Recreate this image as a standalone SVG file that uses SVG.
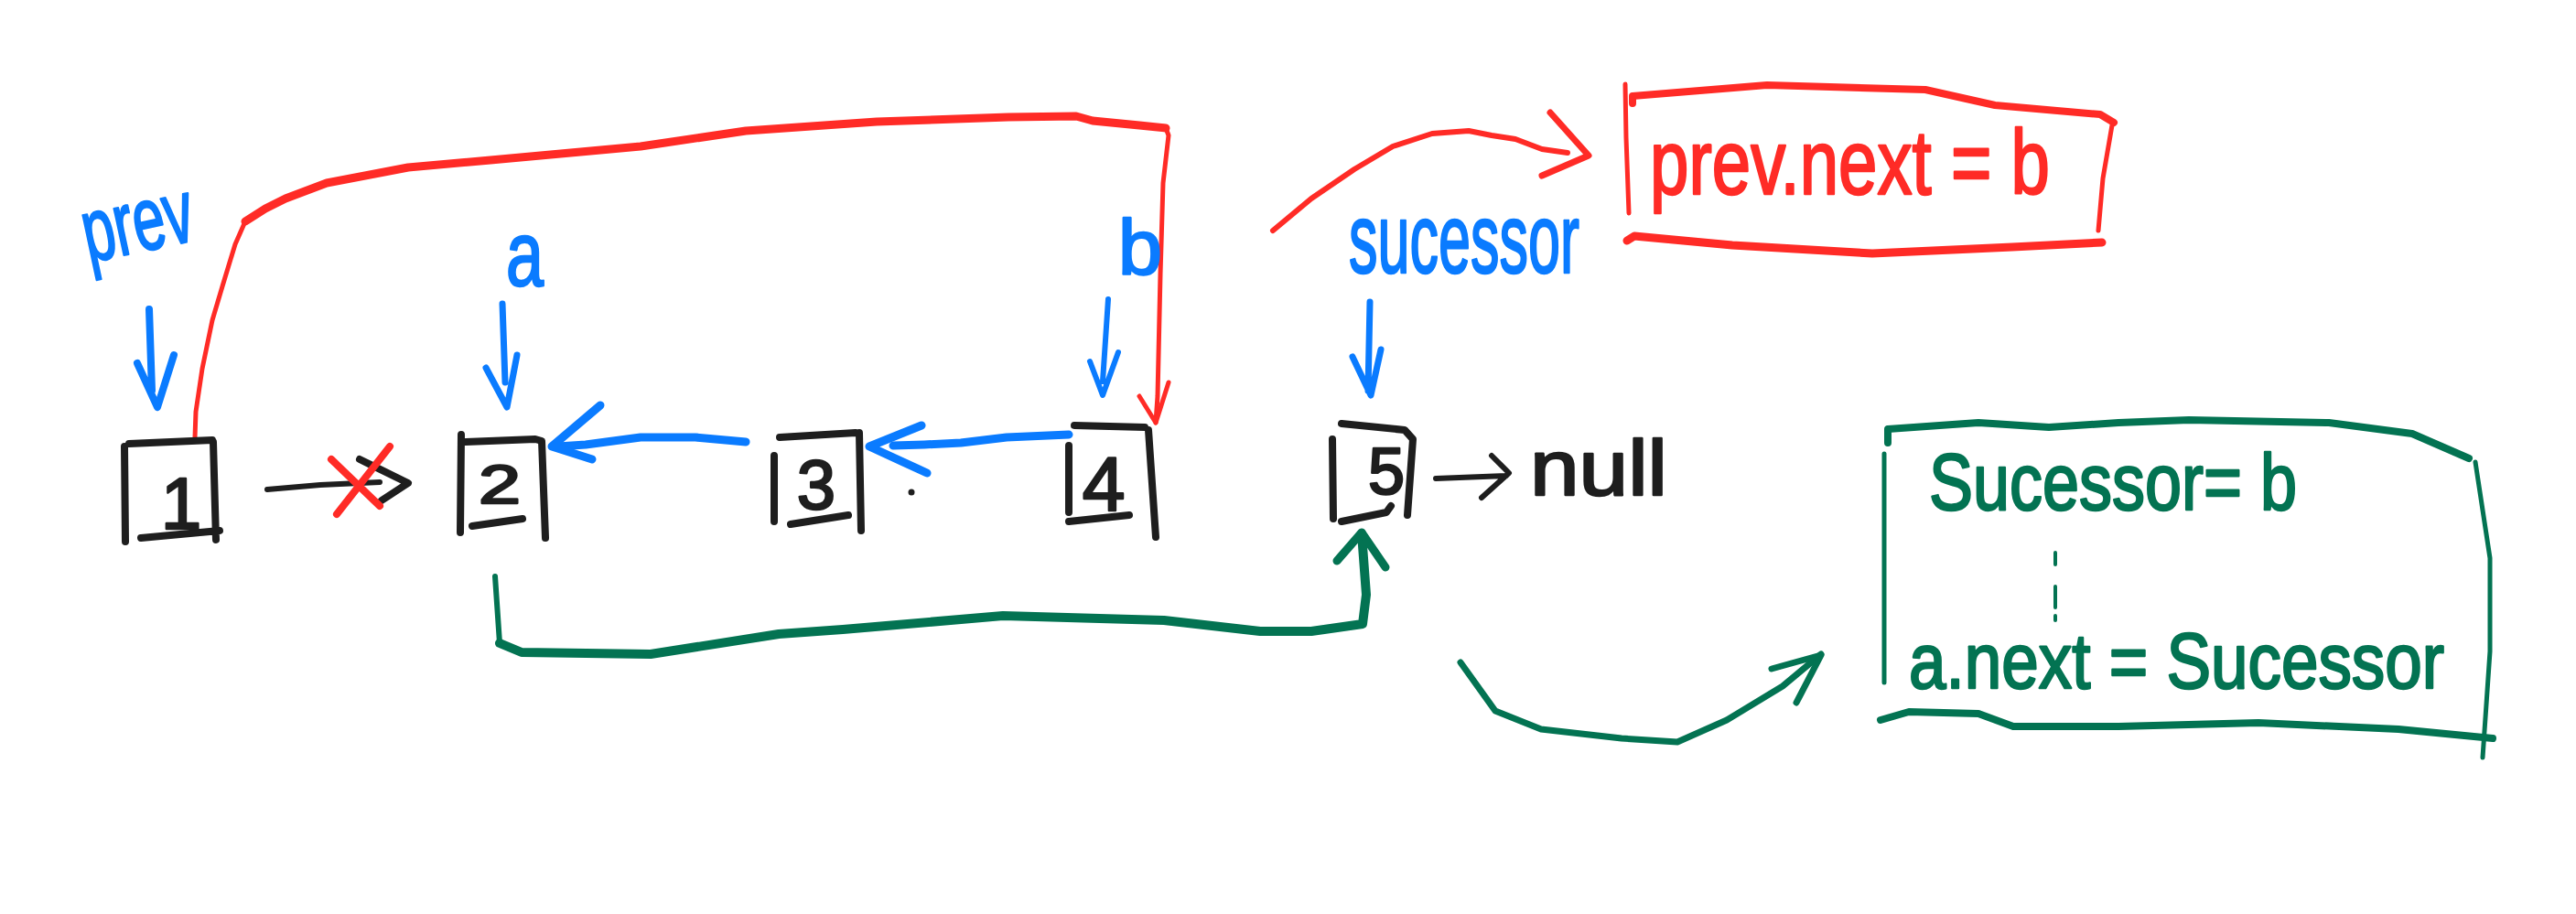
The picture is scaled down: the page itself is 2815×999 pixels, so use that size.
<svg xmlns="http://www.w3.org/2000/svg" width="2815" height="999" viewBox="0 0 2815 999">
<style>
.s{fill:none;stroke-linecap:round;stroke-linejoin:round}
.k{stroke:#1e1e1e}
.r{stroke:#ff2b26}
.bl{stroke:#0a7bff}
.g{stroke:#037352}
.t{font-family:"Liberation Sans",Arial,sans-serif;stroke-width:2.5;stroke-linejoin:round;paint-order:stroke}
.tk{fill:#1e1e1e;stroke:#1e1e1e}
.tr{fill:#ff2b26;stroke:#ff2b26}
.tb{fill:#0a7bff;stroke:#0a7bff}
.tg{fill:#037352;stroke:#037352}
</style>
<rect width="2815" height="999" fill="#ffffff"/>

<g id="connectors">
  <!-- red: prev.next = b -->
  <path class="s r" stroke-width="5" d="M213 478 L214 450 L221 403 L232 350 L243 313 L257 267 L268 242 L290 228"/>
  <path class="s r" stroke-width="9" d="M268 242 L290 228 L312 217 L357 200 L446 183 L536 175 L700 160 L815 143 L958 133 L1102 128 L1176 127 L1194 132 L1245 137 L1274 140"/>
  <path class="s r" stroke-width="5" d="M1274 140 L1277 148 L1271 200 L1268 300 L1265 433 L1263 462"/>
  <path class="s r" stroke-width="5" d="M1245 433 L1263 462 L1277 418"/>
  <!-- black 1 -> 2 crossed -->
  <path class="s k" stroke-width="6" d="M292 535 L350 530 L415 527"/>
  <path class="s k" stroke-width="8" d="M393 502 L446 528 L417 547"/>
  <path class="s r" stroke-width="8" d="M362 502 L415 553 M426 488 L368 562"/>
  <!-- blue 3 -> 2 -->
  <path class="s bl" stroke-width="9" d="M815 483 L760 478 L700 478 L640 486 L610 488"/>
  <path class="s bl" stroke-width="9" d="M656 443 L603 488 L647 502"/>
  <!-- blue 4 -> 3 -->
  <path class="s bl" stroke-width="9" d="M1168 475 L1100 478 L1050 484 L1010 486 L976 487"/>
  <path class="s bl" stroke-width="9" d="M1007 465 L950 488 L1013 517"/>
  <!-- pointer arrows -->
  <path class="s bl" stroke-width="8" d="M163 338 L166 427 M150 397 L172 445 L190 388"/>
  <path class="s bl" stroke-width="7" d="M549 332 L552 418 M531 402 L554 445 L565 388"/>
  <path class="s bl" stroke-width="6" d="M1211 327 L1205 417 M1191 395 L1205 432 L1222 385"/>
  <path class="s bl" stroke-width="7" d="M1497 330 L1495 427 M1478 390 L1498 432 L1509 382"/>
  <!-- 5 -> null -->
  <path class="s k" stroke-width="6" d="M1569 523 L1646 520 M1630 498 L1649 517 L1619 544"/>
  <!-- red curve to note -->
  <path class="s r" stroke-width="6" d="M1391 252 L1433 217 L1480 185 L1522 160 L1565 146 L1605 143 L1630 148 L1656 152 L1685 163 L1713 167"/>
  <path class="s r" stroke-width="7" d="M1694 123 L1736 170 L1685 192"/>
  <!-- green 2 -> 5 -->
  <path class="s g" stroke-width="6" d="M541 630 L546 703"/>
  <path class="s g" stroke-width="10" d="M546 703 L570 713 L711 715 L851 693 L921 688 L1096 673 L1272 678 L1377 690 L1433 690 L1489 682 L1493 650 L1488 583"/>
  <path class="s g" stroke-width="9" d="M1461 613 L1488 582 L1514 620"/>
  <!-- green curve to note -->
  <path class="s g" stroke-width="7" d="M1596 724 L1634 777 L1684 797 L1772 807 L1833 811 L1887 787 L1948 750 L1990 715"/>
  <path class="s g" stroke-width="7" d="M1936 731 L1990 716 L1963 768"/>
</g>

<g id="node-1">
  <path class="s k" stroke-width="8" d="M136 488 L137 592 M141 485 L232 481 M233 483 L236 590 M154 588 L240 580"/>
  <text class="t tk" x="198" y="578" font-size="80" text-anchor="middle">1</text>
</g>
<g id="node-2">
  <path class="s k" stroke-width="8" d="M504 475 L503 582 M509 483 L585 480 L592 482 L596 588 M516 575 L571 567"/>
  <text class="t tk" x="523" y="550" font-size="60" textLength="46" lengthAdjust="spacingAndGlyphs">2</text>
</g>
<g id="node-3">
  <path class="s k" stroke-width="8" d="M852 478 L935 473 M846 498 L846 570 M939 473 L941 580 M864 573 L927 563"/>
  <text class="t tk" x="892" y="556" font-size="76" text-anchor="middle">3</text>
  <circle cx="996" cy="538" r="3.5" fill="#1e1e1e"/>
</g>
<g id="node-4">
  <path class="s k" stroke-width="8" d="M1174 465 L1251 467 M1168 487 L1168 560 M1255 470 L1263 587 M1168 570 L1234 563"/>
  <text class="t tk" x="1206" y="558" font-size="84" text-anchor="middle">4</text>
</g>
<g id="node-5">
  <path class="s k" stroke-width="8" d="M1466 463 L1535 470 L1544 480 L1538 563 M1456 480 L1457 567 M1466 570 L1515 560 L1520 553"/>
  <text class="t tk" x="1515" y="540" font-size="72" text-anchor="middle">5</text>
</g>

<g id="label-prev">
  <text class="t tb" x="97" y="287" font-size="98" textLength="122" lengthAdjust="spacingAndGlyphs" transform="rotate(-12 97 287)">prev</text>
</g>
<g id="label-a">
  <text class="t tb" x="553" y="312" font-size="100" textLength="41" lengthAdjust="spacingAndGlyphs">a</text>
</g>
<g id="label-b">
  <text class="t tb" x="1222" y="300" font-size="86" textLength="48" lengthAdjust="spacingAndGlyphs">b</text>
</g>
<g id="label-sucessor">
  <text class="t tb" x="1474" y="298" font-size="108" textLength="252" lengthAdjust="spacingAndGlyphs">sucessor</text>
</g>
<g id="null">
  <text class="t tk" x="1672" y="541" font-size="86" textLength="150" lengthAdjust="spacingAndGlyphs">null</text>
</g>

<g id="note-red">
  <path class="s r" stroke-width="5" d="M1776 92 L1777 150 L1780 233"/>
  <path class="s r" stroke-width="8" d="M1784 113 L1784 105 L1931 93 L2104 98 L2180 115 L2295 125 L2310 134"/>
  <path class="s r" stroke-width="5" d="M2308 137 L2298 195 L2293 252"/>
  <path class="s r" stroke-width="9" d="M1778 263 L1786 258 L1893 268 L2046 277 L2199 270 L2297 265"/>
  <text class="t tr" x="1803" y="212" font-size="100" textLength="437" lengthAdjust="spacingAndGlyphs">prev.next = b</text>
</g>

<g id="note-green">
  <path class="s g" stroke-width="5" d="M2059 496 L2059 746"/>
  <path class="s g" stroke-width="8" d="M2063 484 L2063 469 L2162 462 L2239 467 L2315 462 L2392 459 L2545 462 L2636 474 L2698 501"/>
  <path class="s g" stroke-width="5" d="M2705 505 L2721 610 L2721 712 L2713 828"/>
  <path class="s g" stroke-width="8" d="M2055 787 L2086 778 L2162 780 L2200 794 L2315 794 L2468 790 L2621 797 L2724 807"/>
  <text class="t tg" x="2108" y="557" font-size="88" textLength="402" lengthAdjust="spacingAndGlyphs">Sucessor= b</text>
  <path class="s g" stroke-width="4" d="M2246 604 L2246 617 M2246 641 L2246 664 M2246 673 L2246 678"/>
  <text class="t tg" x="2086" y="752" font-size="86" textLength="585" lengthAdjust="spacingAndGlyphs">a.next = Sucessor</text>
</g>
</svg>
